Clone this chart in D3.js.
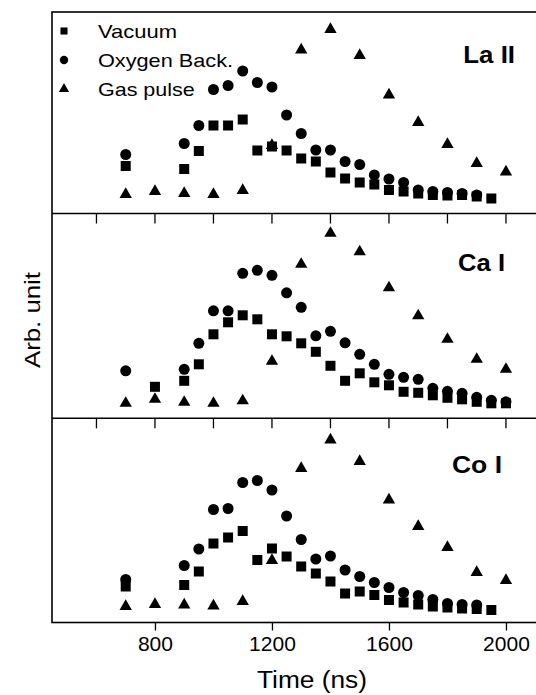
<!DOCTYPE html>
<html>
<head>
<meta charset="utf-8">
<script src="https://cdn.jsdelivr.net/npm/d3@7"></script>
<style>
	body { margin: 0; background: #fff; }
	svg { display: block; font-family: "Liberation Sans", Arial, sans-serif; }
</style>
</head>
<body>
<div class="js-graph"></div>
<script>
// time points (ns)
var timesVac = [700, 900, 950, 1000, 1050, 1100, 1150, 1200, 1250, 1300, 1350, 1400, 1450, 1500, 1550, 1600, 1650, 1700, 1750, 1800, 1850, 1900, 1950],
	timesVacCa = [800, 900, 950, 1000, 1050, 1100, 1150, 1200, 1250, 1300, 1350, 1400, 1450, 1500, 1550, 1600, 1650, 1700, 1750, 1800, 1850, 1900, 1950, 2000],
	timesOxy = [700, 900, 950, 1000, 1050, 1100, 1150, 1200, 1250, 1300, 1350, 1400, 1450, 1500, 1550, 1600, 1650, 1700, 1750, 1800, 1850, 1900],
	timesOxyCa = [700, 900, 950, 1000, 1050, 1100, 1150, 1200, 1250, 1300, 1350, 1400, 1450, 1500, 1550, 1600, 1650, 1700, 1750, 1800, 1850, 1900, 1950, 2000],
	timesGas = [700, 800, 900, 1000, 1100, 1200, 1300, 1400, 1500, 1600, 1700, 1800, 1900, 2000];

// La II
var laVac = [47.5, 44.5, 62.5, 88, 88, 94, 63, 67, 63, 55, 52, 41, 35, 31, 29, 23.5, 22, 20, 18.5, 18, 18.5, 17, 15],
	laOxy = [59, 70, 88, 124, 128, 142.5, 131, 126.5, 98.5, 80, 63.5, 63.5, 52, 49, 38.5, 34.5, 31, 23.5, 22, 21, 20, 18.5],
	laGas = [19, 22, 20, 19, 23, 68, 163.5, 184, 158, 118.5, 91, 69, 50, 41.5];
// Ca I
var caVac = [31.5, 37.5, 54, 84, 96, 103, 99, 84, 82, 75, 66.5, 52.5, 37.5, 45, 36, 33, 26.5, 25.5, 23, 20.5, 19, 16.5, 15, 15],
	caOxy = [47.5, 49, 75, 107.5, 107.5, 145, 148, 143, 125.5, 111, 82.5, 87, 75.5, 64, 54, 44, 41, 39, 30, 27, 25, 21, 18, 16.5],
	caGas = [15, 19, 16, 15, 17.5, 57, 154, 185, 166.5, 130.5, 102.5, 79, 59, 49];
// Co I
var coVac = [36, 37.5, 51, 79, 85, 91.5, 62.5, 74, 66, 56, 49, 41, 29, 31, 27.5, 22.5, 20, 18, 16, 15, 14, 13.5, 12.5],
	coOxy = [43, 57, 73.5, 113, 114, 140, 142, 132.5, 106.5, 83, 63.5, 66.5, 52.5, 46, 40, 35, 30, 27, 23, 19, 18, 17.5],
	coGas = [16, 18, 17.5, 16.5, 21, 62, 154, 182.5, 161, 122.5, 96, 75, 50, 42];

var panelNames = ['La II', 'Ca I', 'Co I'],
	seriesNames = ['Vacuum', 'Oxygen Back.', 'Gas pulse'],
	xTicksMajor = [800, 1200, 1600, 2000],
	xTicksMinor = [600, 800, 1000, 1200, 1400, 1600, 1800, 2000];

var panels = [
	{ name: panelNames[0], top: 12, bottom: 213.5, series: [[timesVac, laVac], [timesOxy, laOxy], [timesGas, laGas]] },
	{ name: panelNames[1], top: 213.5, bottom: 418.3, series: [[timesVacCa, caVac], [timesOxyCa, caOxy], [timesGas, caGas]] },
	{ name: panelNames[2], top: 418.3, bottom: 622.5, series: [[timesVac, coVac], [timesOxy, coOxy], [timesGas, coGas]] }
];

(function(d3) {
	var w = 536, h = 695,
		left = 52, right = 540,
		svg = d3.select('.js-graph').append('svg').attr('width', w).attr('height', h);

	var x = d3.scaleLinear().domain([448, 2110]).range([left, left + (2110 - 448) * 0.2925]);

	var symbols = [
		d3.symbol().type(d3.symbolSquare).size(100),
		d3.symbol().type(d3.symbolCircle).size(95),
		d3.symbol().type(d3.symbolTriangle).size(66)
	];
	var legendSymbols = [
		d3.symbol().type(d3.symbolSquare).size(50),
		d3.symbol().type(d3.symbolCircle).size(55),
		d3.symbol().type(d3.symbolTriangle).size(45)
	];

	// label placement: [right x, baseline y, width]
	var labelPos = [[515, 63, 51.7], [505, 271, 47], [502, 472.5, 50]];

	panels.forEach(function(p, i) {
		var y = d3.scaleLinear().domain([0, p.bottom - p.top]).range([p.bottom, p.top]);
		var g = svg.append('g');

		p.series.forEach(function(s, k) {
			var pts = s[0].map(function(t, j) { return { t: t, v: s[1][j] }; });
			g.selectAll('path.s' + k)
				.data(pts)
				.enter()
				.append('path')
				.attr('class', 's' + k)
				.attr('d', symbols[k])
				.attr('transform', function(d) { return 'translate(' + x(d.t) + ',' + y(d.v) + ')'; })
				.attr('fill', '#000');
		});

		g.append('text')
			.attr('x', labelPos[i][0] - labelPos[i][2])
			.attr('y', labelPos[i][1])
			.attr('font-size', '24px')
			.attr('font-weight', 'bold')
			.attr('textLength', labelPos[i][2])
			.attr('lengthAdjust', 'spacingAndGlyphs')
			.text(p.name);

		// inner ticks hanging from the top of the lower panels
		if (i > 0) {
			g.selectAll('line.tick')
				.data(xTicksMinor)
				.enter()
				.append('line')
				.attr('x1', function(d) { return x(d); })
				.attr('x2', function(d) { return x(d); })
				.attr('y1', p.top)
				.attr('y2', p.top + 10)
				.style('stroke', '#000')
				.style('stroke-width', 1.3);
		}
	});

	// frame
	svg.append('rect')
		.attr('x', left).attr('y', 12)
		.attr('width', right - left).attr('height', 622.5 - 12)
		.attr('fill', 'none').style('stroke', '#000').style('stroke-width', 1.6);
	[213.5, 418.3].forEach(function(yy) {
		svg.append('line').attr('x1', left).attr('x2', right).attr('y1', yy).attr('y2', yy)
			.style('stroke', '#000').style('stroke-width', 1.6);
	});

	// bottom axis
	var xAxis = d3.axisBottom(x).tickValues(xTicksMajor).tickSize(8).tickPadding(6).tickFormat(d3.format('d'));
	var ax = svg.append('g').attr('transform', 'translate(0,622.5)').call(xAxis);
	ax.select('.domain').remove();
	ax.selectAll('line').style('stroke-width', 1.3);
	ax.selectAll('text').attr('font-size', '21px').attr('fill', '#000')
		.attr('font-family', '"Liberation Sans", Arial, sans-serif');

	// legend
	var legendWidths = [79, 135, 96.7];
	var leg = svg.append('g');
	seriesNames.forEach(function(n, k) {
		var yy = 31 + k * 29;
		leg.append('path').attr('d', legendSymbols[k]).attr('transform', 'translate(64,' + yy + ')').attr('fill', '#000');
		leg.append('text').attr('x', 98).attr('y', yy + 6.7)
			.attr('font-size', '19px')
			.attr('textLength', legendWidths[k])
			.attr('lengthAdjust', 'spacingAndGlyphs')
			.text(n);
	});

	svg.append('text')
		.attr('transform', 'translate(40,368) rotate(-90)')
		.attr('font-size', '22px')
		.attr('textLength', 96)
		.attr('lengthAdjust', 'spacingAndGlyphs')
		.text('Arb. unit');

	svg.append('text')
		.attr('x', 257).attr('y', 688)
		.attr('font-size', '23px')
		.attr('textLength', 110)
		.attr('lengthAdjust', 'spacingAndGlyphs')
		.text('Time (ns)');
})(d3);
</script>
</body>
</html>
